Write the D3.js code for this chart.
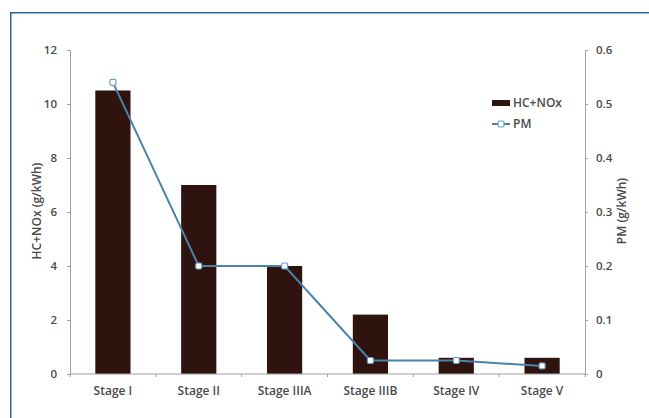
<!DOCTYPE html>
<html>
<head>
<meta charset="utf-8">
<style>
  body { margin: 0; background: #fff; }
  svg text { font-family: "Open Sans", sans-serif; fill: #4a4a4a; font-weight: 600; }
</style>
</head>
<body>
<script src="https://cdn.jsdelivr.net/npm/d3@7"></script>
<script>
// data
var stages = ["Stage I", "Stage II", "Stage IIIA", "Stage IIIB", "Stage IV", "Stage V"];
var hcNox  = [10.5, 7, 4, 2.2, 0.6, 0.6];
var pm     = [0.54, 0.2, 0.2, 0.025, 0.025, 0.015];
var leftTicks  = [0, 2, 4, 6, 8, 10, 12];
var rightTicks = [0, 0.1, 0.2, 0.3, 0.4, 0.5, 0.6];

var W = 649, H = 418;
var margin = {top: 50, right: 64, bottom: 44, left: 70};
var width  = W - margin.left - margin.right,
    height = H - margin.top - margin.bottom;

var svg = d3.select("body").append("svg")
    .attr("width", W).attr("height", H);

// frame
svg.append("path")
    .attr("d", "M10.75," + H + " V12.75 H" + W)
    .attr("fill", "none")
    .attr("stroke", "#2f6496")
    .attr("stroke-width", 1.5);

var g = svg.append("g")
    .attr("transform", `translate(${margin.left},${margin.top})`);

var x = d3.scaleBand().domain(stages).range([0, width]).paddingInner(0.59).paddingOuter(0.295);
var xc = d3.scaleBand().domain(stages).range([0, width]);
var yL = d3.scaleLinear().domain([0, 12]).range([height, 0]);
var yR = d3.scaleLinear().domain([0, 0.6]).range([height, 0]);

// bars
g.selectAll(".bar")
    .data(stages)
  .enter().append("rect")
    .attr("class", "bar")
    .attr("x", d => x(d))
    .attr("width", x.bandwidth())
    .attr("y", (d, i) => yL(hcNox[i]))
    .attr("height", (d, i) => height - yL(hcNox[i]))
    .attr("fill", "#2e130e");

// axes
function styleAxis(sel) {
  sel.selectAll("path, line").attr("stroke", "#a0a0a0");
  sel.selectAll("text").attr("font-size", 11.5).attr("fill", "#4a4a4a");
}
g.append("g")
    .call(d3.axisLeft(yL).tickValues(leftTicks).tickSize(3).tickSizeOuter(3).tickPadding(10))
    .call(styleAxis);
g.append("g")
    .attr("transform", `translate(${width},0)`)
    .call(d3.axisRight(yR).tickValues(rightTicks).tickFormat(d => d === 0 ? "0" : d3.format(".1f")(d)).tickSize(3).tickSizeOuter(3).tickPadding(8))
    .call(styleAxis);

var xAxis = g.append("g").attr("transform", `translate(0,${height})`);
xAxis.append("line").attr("x1", 0).attr("x2", width).attr("stroke", "#a0a0a0");
xAxis.selectAll(".tk")
    .data(d3.range(stages.length + 1))
  .enter().append("line")
    .attr("x1", i => i * xc.step()).attr("x2", i => i * xc.step())
    .attr("y1", 0).attr("y2", 3)
    .attr("stroke", "#a0a0a0");
xAxis.selectAll(".lbl")
    .data(stages)
  .enter().append("text")
    .attr("x", d => xc(d) + xc.bandwidth() / 2)
    .attr("y", 21)
    .attr("text-anchor", "middle")
    .attr("font-size", 12)
    .text(d => d);

// PM line
var line = d3.line()
    .x((d, i) => xc(stages[i]) + xc.bandwidth() / 2)
    .y(d => yR(d));
g.append("path")
    .datum(pm)
    .attr("d", line)
    .attr("fill", "none")
    .attr("stroke", "#4a82aa")
    .attr("stroke-width", 2);
g.selectAll(".pt")
    .data(pm)
  .enter().append("rect")
    .attr("x", (d, i) => xc(stages[i]) + xc.bandwidth() / 2 - 3)
    .attr("y", d => yR(d) - 3)
    .attr("width", 6).attr("height", 6)
    .attr("rx", 1.5)
    .attr("fill", "#fff")
    .attr("stroke", "#6a9cc0")
    .attr("stroke-width", 1.2);

// axis titles
svg.append("text")
    .attr("transform", "translate(41,211) rotate(-90)")
    .attr("text-anchor", "middle")
    .attr("font-size", 12)
    .text("HC+NOx (g/kWh)");
svg.append("text")
    .attr("transform", "translate(626,211) rotate(-90)")
    .attr("text-anchor", "middle")
    .attr("font-size", 12)
    .text("PM (g/kWh)");

// legend
var lg = svg.append("g").attr("transform", "translate(492,103)");
lg.append("rect").attr("x", 0).attr("y", -3).attr("width", 18).attr("height", 6).attr("fill", "#2e130e");
lg.append("text").attr("x", 21).attr("y", 4).attr("font-size", 12).text("HC+NOx");
lg.append("line").attr("x1", 0).attr("x2", 18).attr("y1", 21).attr("y2", 21)
    .attr("stroke", "#4a82aa").attr("stroke-width", 2);
lg.append("rect").attr("x", 6).attr("y", 18).attr("width", 6).attr("height", 6).attr("rx", 1.5)
    .attr("fill", "#fff").attr("stroke", "#6a9cc0").attr("stroke-width", 1.2);
lg.append("text").attr("x", 21).attr("y", 25).attr("font-size", 12).text("PM");
</script>
</body>
</html>
